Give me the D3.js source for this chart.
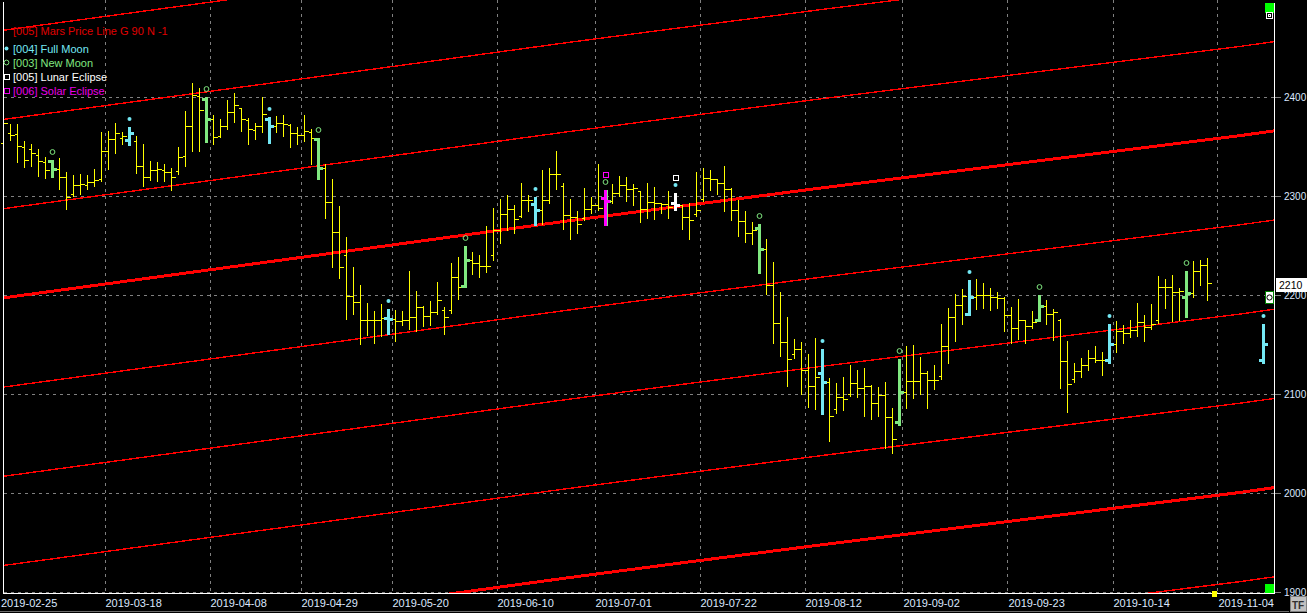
<!DOCTYPE html>
<html><head><meta charset="utf-8">
<script src="https://cdn.jsdelivr.net/npm/d3@7"></script>
<style>
html,body{margin:0;padding:0;background:#000;overflow:hidden}
svg{display:block}
text{font-family:"Liberation Sans",Arial,sans-serif;font-size:11px}
</style></head><body>
<svg id="c" width="1307" height="613"></svg>
<script>
// ---------- DATA ----------
const firstDay = "2019-02-25", lastDay = "2019-11-15";
const holidays = ["2019-04-19","2019-04-22","2019-05-01","2019-05-02","2019-06-20","2019-08-15"];
const gridDates = ["2019-02-25","2019-03-18","2019-04-08","2019-04-29","2019-05-20","2019-06-10","2019-07-01","2019-07-22","2019-08-12","2019-09-02","2019-09-23","2019-10-14","2019-11-04"];
const priceTicks = [1900,2000,2100,2200,2300,2400];

const barOpen = [2353,2363,2362,2349,2347,2341,2334,2335,2327,2319,2302,2311,2311,2314,2317,2345,2357,2358,2356,2355,2330,2319,2326,2326,2324,2325,2340,2370,2401,2398,
2377,2360,2370,2385,2389,2376,2366,2370,2378,2370,2373,2371,2363,2361,2364,2357,2328,2294,2264,2240,
2199,2193,2175,2175,2175,2177,2176,2174,2175,2178,2188,2179,2183,2185,2185,2218,2209,2235,2232,2229,
2240,2266,2282,2287,2280,2296,2292,2286,2296,2322,2310,2281,2279,2278,2287,2291,2298,2295,2303,2311,
2307,2305,2287,2294,2293,2292,2293,2291,2279,2282,2297,2318,2317,2313,2307,2286,2275,2262,2268,2246,
2210,2172,2153,2140,2145,2124,2108,2121,2112,2085,2097,2100,2111,2106,2108,2091,2099,2077,2072,2102,
2113,2113,2121,2114,2118,2148,2178,2190,2181,2198,2200,2200,2198,2197,2180,2167,2175,2169,2175,2189,
2181,2175,2133,2115,2123,2129,2136,2134,2134,2151,2164,2162,2165,2173,2168,2175,2208,2208,2203,2198,
2202,2224,2230];
const barHigh = [2382,2373,2373,2356,2353,2348,2340,2336,2339,2325,2322,2323,2322,2328,2365,2366,2374,2365,2369,2361,2353,2336,2335,2333,2329,2350,2387,2415,2410,2400,
2383,2379,2398,2405,2390,2380,2374,2401,2380,2382,2383,2373,2370,2383,2368,2358,2333,2318,2291,2259,
2229,2211,2193,2185,2192,2186,2186,2185,2225,2205,2190,2195,2214,2189,2233,2239,2249,2244,2241,2271,
2289,2298,2302,2292,2314,2302,2299,2327,2329,2346,2314,2298,2286,2309,2300,2333,2306,2313,2321,2320,
2313,2305,2314,2310,2294,2306,2303,2291,2294,2325,2329,2327,2318,2331,2309,2297,2286,2275,2272,2257,
2234,2204,2179,2157,2154,2141,2158,2145,2117,2112,2118,2130,2125,2127,2110,2108,2113,2087,2135,2149,
2151,2138,2124,2130,2172,2188,2202,2207,2215,2217,2213,2208,2204,2199,2189,2197,2176,2185,2200,2196,
2187,2177,2155,2132,2137,2145,2150,2143,2171,2175,2171,2176,2193,2181,2192,2220,2217,2221,2208,2224,
2235,2236,2238];
const barLow = [2353,2357,2335,2330,2331,2321,2319,2319,2308,2288,2301,2303,2308,2311,2316,2328,2344,2353,2351,2324,2311,2317,2316,2316,2307,2323,2331,2346,2346,2354,
2353,2360,2368,2375,2366,2353,2358,2365,2353,2365,2361,2350,2353,2356,2333,2317,2279,2229,2218,2177,
2182,2152,2161,2153,2160,2161,2155,2171,2167,2165,2170,2171,2182,2162,2183,2197,2208,2222,2219,2224,
2236,2253,2267,2263,2280,2286,2271,2273,2294,2308,2268,2257,2263,2277,2284,2287,2271,2294,2301,2296,
2292,2275,2279,2278,2284,2279,2286,2268,2257,2281,2296,2307,2303,2286,2277,2260,2254,2252,2222,2202,
2153,2139,2109,2137,2101,2088,2086,2080,2054,2082,2085,2099,2098,2079,2076,2079,2047,2042,2069,2087,
2097,2101,2087,2106,2116,2132,2155,2172,2180,2187,2188,2186,2188,2165,2153,2157,2153,2168,2174,2172,
2156,2107,2083,2113,2118,2125,2133,2120,2131,2143,2153,2159,2160,2155,2167,2173,2188,2175,2176,2178,
2199,2211,2196];
const barClose = [2373,2361,2350,2336,2343,2335,2326,2327,2319,2299,2311,2312,2314,2316,2345,2357,2363,2360,2363,2330,2319,2326,2327,2324,2319,2339,2370,2402,2387,2377,
2359,2370,2385,2392,2377,2367,2370,2383,2370,2373,2372,2363,2361,2365,2358,2328,2294,2263,2228,2199,
2193,2175,2175,2175,2177,2176,2174,2175,2178,2188,2179,2183,2195,2178,2218,2208,2235,2232,2229,2229,
2266,2282,2287,2277,2296,2296,2286,2296,2322,2322,2281,2279,2272,2287,2291,2288,2295,2303,2311,2307,
2308,2287,2294,2293,2292,2289,2291,2279,2276,2286,2318,2317,2313,2307,2286,2275,2262,2266,2246,2210,
2172,2153,2135,2145,2124,2108,2117,2112,2078,2097,2095,2111,2106,2108,2091,2099,2077,2055,2102,2113,
2113,2121,2114,2114,2148,2178,2190,2199,2198,2200,2200,2198,2197,2180,2167,2175,2169,2173,2189,2181,
2183,2133,2110,2123,2129,2136,2134,2134,2151,2164,2162,2165,2173,2168,2171,2208,2208,2203,2204,2202,
2224,2230,2212];

// projected full-moon bar at the right edge
const projDate = "2019-11-12";
const projOHLC = [2134, 2171, 2131, 2151];

const fullMoonDates = ["2019-03-21","2019-04-18","2019-05-17","2019-06-17","2019-07-16","2019-08-14","2019-09-13","2019-10-11","2019-11-12"];
const newMoonDates  = ["2019-03-06","2019-04-05","2019-05-03","2019-06-03","2019-07-02","2019-08-01","2019-08-30","2019-09-27","2019-10-28"];
const lunarEclipseDates = ["2019-07-16"];
const solarEclipseDates = ["2019-07-02"];

// Mars price line (thick base) read at a few bars, and its harmonic offsets
const marsAnchorIdx = [0, 50, 80, 94, 117, 177, 182];
const marsAnchorVal = [2197, 2245, 2274, 2287, 2308, 2361, 2366];
const marsOffsets = [-450,-360,-270,-180,-90,0,90,180,270];

const lastPrice = 2210;

const legendItems = [
  {label:"[004] Full Moon", color:"#74e8f4", sym:"dot"},
  {label:"[003] New Moon", color:"#80e880", sym:"circle"},
  {label:"[005] Lunar Eclipse", color:"#ffffff", sym:"square"},
  {label:"[006] Solar Eclipse", color:"#e800e8", sym:"square"}
];

// ---------- BUILD ----------
const parse = d3.utcParse("%Y-%m-%d"), fmt = d3.utcFormat("%Y-%m-%d");
const dates = d3.utcDays(parse(firstDay), d3.utcDay.offset(parse(lastDay),1))
  .filter(d => d.getUTCDay() % 6 !== 0).map(fmt).filter(s => !holidays.includes(s));
const idx = s => dates.indexOf(s);

const W = 1307, H = 613, plotR = 1274, plotB = 593;
const x = d3.scaleLinear().domain([-3/7, 182 - 3/7]).range([0, plotR]);
const y = d3.scaleLinear().domain([1900, 2400]).range([592.3, 96.7]);
const px = i => Math.round(x(i)) + 0.5;
const py = v => Math.round(y(v)) + 0.5;

const svg = d3.select("#c");
svg.append("rect").attr("width", W).attr("height", H).attr("fill", "#000");
svg.append("defs").append("clipPath").attr("id","clip")
  .append("rect").attr("x",0).attr("y",0).attr("width",plotR).attr("height",plotB);

const grid = svg.append("g").attr("shape-rendering","crispEdges");
// vertical grid
gridDates.forEach(s => {
  const gx = Math.round(x(idx(s) - 0.5)) + 0.5;
  if (gx > 2) grid.append("line").attr("x1",gx).attr("x2",gx).attr("y1",0).attr("y2",plotB)
    .attr("stroke","#808080").attr("stroke-dasharray","3,4");
});
// horizontal grid
priceTicks.forEach(v => {
  const gy = py(v);
  grid.append("line").attr("x1",4).attr("x2",plotR).attr("y1",gy).attr("y2",gy)
    .attr("stroke","#808080").attr("stroke-dasharray","3,4");
  grid.append("line").attr("x1",plotR).attr("x2",plotR+7).attr("y1",gy).attr("y2",gy)
    .attr("stroke","#808080");
});

// Mars lines
const plot = svg.append("g").attr("clip-path","url(#clip)");
const marsBase = marsAnchorIdx.map((d,i)=>({i:d, v:marsAnchorVal[i]}));
const lineGen = d3.line().x(d => x(d.i)).y(d => y(d.v));
marsOffsets.forEach(off => {
  const thick = (off/90) % 4 === 0;
  plot.append("path")
    .attr("d", lineGen(marsBase.map(d => ({i:d.i, v:d.v + off}))))
    .attr("fill","none").attr("stroke","#ff0000")
    .attr("stroke-width", thick ? 3 : 1.4)
    .attr("shape-rendering","crispEdges");
});

// bars
const bars = barOpen.map((o,i)=>({i, o, h:barHigh[i], l:barLow[i], c:barClose[i]}));
const colorFor = {};
fullMoonDates.forEach(s => colorFor[s] = "#74e8f4");
newMoonDates.forEach(s => colorFor[s] = "#80e880");
lunarEclipseDates.forEach(s => colorFor[s] = "#ffffff");
solarEclipseDates.forEach(s => colorFor[s] = "#ff00ff");

const barG = plot.append("g").attr("shape-rendering","crispEdges");
function drawBar(b, color, thick) {
  const cx = px(b.i);
  if (!thick) {
    barG.append("line").attr("x1",cx).attr("x2",cx).attr("y1",py(b.h)).attr("y2",py(b.l)+1).attr("stroke",color);
    barG.append("line").attr("x1",cx-3).attr("x2",cx).attr("y1",py(b.o)).attr("y2",py(b.o)).attr("stroke",color);
    barG.append("line").attr("x1",cx).attr("x2",cx+4).attr("y1",py(b.c)).attr("y2",py(b.c)).attr("stroke",color);
  } else {
    const x0 = Math.round(x(b.i)) - 1;
    barG.append("rect").attr("x",x0).attr("y",Math.round(y(b.h))).attr("width",3)
      .attr("height",Math.max(2,Math.round(y(b.l))-Math.round(y(b.h))+1)).attr("fill",color);
    barG.append("rect").attr("x",x0-3).attr("y",Math.round(y(b.o))-1).attr("width",3).attr("height",3).attr("fill",color);
    barG.append("rect").attr("x",x0+3).attr("y",Math.round(y(b.c))-1).attr("width",3).attr("height",3).attr("fill",color);
  }
}
bars.forEach(b => {
  const s = dates[b.i];
  if (colorFor[s]) {
    if (solarEclipseDates.includes(s)) drawBar({...b, i:b.i + 0.15}, "#80e880", true);
    drawBar(b, colorFor[s], true);
  } else drawBar(b, "#ffff00", false);
});
// projected bar
const pb = {i: idx(projDate), o:projOHLC[0], h:projOHLC[1], l:projOHLC[2], c:projOHLC[3]};
drawBar(pb, "#74e8f4", true);

// markers
const markG = plot.append("g");
const allBars = bars.concat([pb]);
function highOf(s){ const i = idx(s); const b = allBars.find(d => d.i === i); return b ? b.h : null; }
function markStack(s){ markStack.n[s] = (markStack.n[s]||0) + 1; return markStack.n[s]; }
markStack.n = {};
function placeMark(s, sym, color){
  const h = highOf(s); if (h === null) return;
  const k = markStack(s);
  const cx = Math.round(x(idx(s))) + 0.5;
  const cy = Math.round(y(h)) - 8 - (k-1)*7.5;
  drawSym(markG, sym, cx, cy, color);
}
function drawSym(g, sym, cx, cy, color){
  if (sym === "dot") g.append("circle").attr("cx",cx).attr("cy",cy).attr("r",2).attr("fill",color);
  else if (sym === "circle") g.append("circle").attr("cx",cx).attr("cy",cy).attr("r",2.4).attr("fill","none").attr("stroke",color).attr("stroke-width",1);
  else g.append("rect").attr("x",cx-2.5).attr("y",cy-2.5).attr("width",5).attr("height",5).attr("fill","none").attr("stroke",color).attr("stroke-width",1).attr("shape-rendering","crispEdges");
}
fullMoonDates.forEach(s => placeMark(s, "dot", "#74e8f4"));
newMoonDates.forEach(s => placeMark(s, "circle", "#80e880"));
lunarEclipseDates.forEach(s => placeMark(s, "square", "#ffffff"));
solarEclipseDates.forEach(s => placeMark(s, "square", "#ff00ff"));

// frame
const frame = svg.append("g").attr("shape-rendering","crispEdges").attr("stroke","#ffffff");
frame.append("line").attr("x1",3.5).attr("x2",3.5).attr("y1",2).attr("y2",plotB+0.5);
frame.append("line").attr("x1",plotR+0.5).attr("x2",plotR+0.5).attr("y1",3).attr("y2",plotB+0.5);
frame.append("line").attr("x1",3).attr("x2",plotR+1).attr("y1",plotB+0.5).attr("y2",plotB+0.5);

// bottom separator
svg.append("line").attr("x1",0).attr("x2",1289).attr("y1",611.5).attr("y2",611.5)
  .attr("stroke","#6a6a6a").attr("shape-rendering","crispEdges");

// axis labels
const labColor = "#dce8ff";
gridDates.forEach(s => {
  const gx = x(idx(s) - 0.5);
  svg.append("text").attr("x", Math.max(1, gx + 1)).attr("y", 607).attr("fill", labColor).text(s);
});
priceTicks.forEach(v => {
  svg.append("text").attr("x", 1284).attr("y", y(v) + 4).attr("fill", labColor)
    .style("font-size","10px").text(v);
});

// last price box
const lpY = y(lastPrice);
svg.append("rect").attr("x",1276).attr("y",Math.round(lpY)-7).attr("width",31).attr("height",14).attr("fill","#ffffff");
svg.append("text").attr("x",1279).attr("y",lpY+4).attr("fill","#000").style("font-size","10.5px").text(lastPrice);

// scroll widgets
const wg = svg.append("g").attr("shape-rendering","crispEdges");
wg.append("rect").attr("x",1265).attr("y",3).attr("width",9).attr("height",10).attr("fill","#00ff00");
wg.append("rect").attr("x",1266.5).attr("y",12.5).attr("width",6).attr("height",6).attr("fill","#000").attr("stroke","#fff");
wg.append("rect").attr("x",1268.5).attr("y",14.5).attr("width",2).attr("height",2).attr("fill","none").attr("stroke","#fff");
wg.append("rect").attr("x",1265).attr("y",584).attr("width",9).attr("height",9).attr("fill","#00ff00");
wg.append("rect").attr("x",1265.5).attr("y",Math.round(y(2200))-3.5).attr("width",8).attr("height",12).attr("fill","#ffffff").attr("stroke","#008000");
svg.append("circle").attr("cx",1269.5).attr("cy",Math.round(y(2200))+2.5).attr("r",2.6).attr("fill","none").attr("stroke","#000");
// today marker
wg.append("rect").attr("x",Math.round(x(173))-2).attr("y",591).attr("width",5).attr("height",6).attr("fill","#ffff00");

// TF button
wg.append("rect").attr("x",1290.5).attr("y",596.5).attr("width",16).attr("height",15).attr("fill","#c0c0c0").attr("stroke","#808080");
svg.append("text").attr("x",1292).attr("y",609).attr("fill","#303030").attr("font-weight","bold")
  .style("font-size","10px").text("TF");

// legend
svg.append("text").attr("x",13).attr("y",35).attr("fill","#e00000").text("[005] Mars Price Line G 90 N -1");
legendItems.forEach((it,k) => {
  const cy = [48.5, 62.5, 76.5, 90.5][k];
  drawSym(svg, it.sym, 6.5, cy, it.color);
  svg.append("text").attr("x",13).attr("y",cy+4).attr("fill",it.color).text(it.label);
});
</script>
</body></html>
